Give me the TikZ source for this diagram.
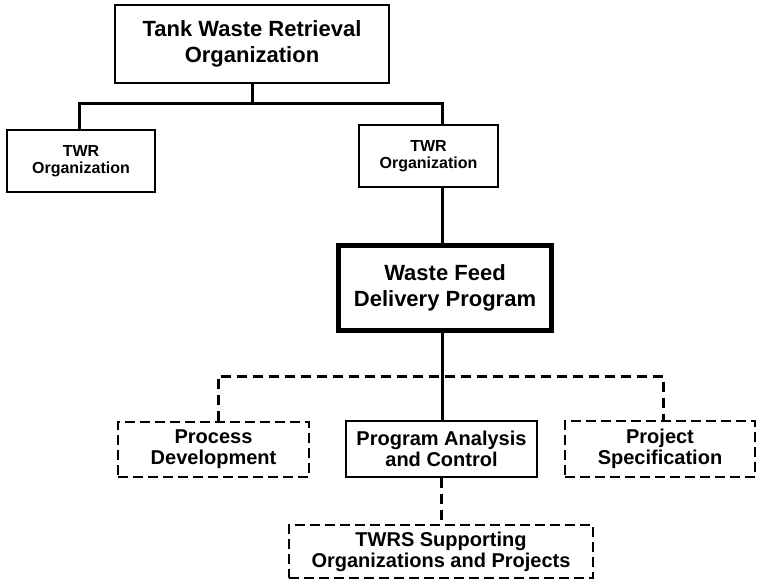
\documentclass[tikz,border=0pt]{standalone}
\usepackage{fontspec}
\setmainfont{Liberation Sans}
\newcommand{\fbig}{\fontsize{22}{26}\selectfont\bfseries}
\newcommand{\fmid}{\fontsize{20}{21}\selectfont\bfseries}
\newcommand{\fsmall}{\fontsize{16}{17}\selectfont\bfseries}

\begin{document}
\begin{tikzpicture}[x=1pt,y=-1pt,
  box/.style={draw,rectangle,line width=1.2pt,inner sep=0pt,align=center},
  dbox/.style={box,dash pattern=on 10pt off 5pt},
  link/.style={line width=3pt},
  dlink/.style={line width=3pt,dash pattern=on 10pt off 6pt}]
  \useasboundingbox (0,0) rectangle (758,581);
  \node[box,minimum width=274,minimum height=78,font=\fbig] (B-1) at (252,44) {Tank Waste Retrieval\\Organization};
  \node[box,minimum width=148,minimum height=62,font=\fsmall] (B-2) at (81,161) {TWR\\Organization};
  \node[box,minimum width=139,minimum height=62,font=\fsmall] (B-3) at (428.5,156) {TWR\\Organization};
  \node[box,line width=5pt,minimum width=213,minimum height=85,font=\fbig] (B-4) at (445,288) {Waste Feed\\Delivery Program};
  \node[dbox,minimum width=191,minimum height=55,font=\fmid] (B-5) at (213.5,449.5) {Process\\Development};
  \node[box,minimum width=191,minimum height=56,font=\fmid] (B-6) at (441.5,449) {Program Analysis\\and Control};
  \node[dbox,minimum width=190,minimum height=56,font=\fmid] (B-7) at (660,449) {Project\\Specification};
  \node[dbox,minimum width=304,minimum height=53,font=\fmid] (B-8) at (441,551.5) {TWRS Supporting\\Organizations and Projects};
  \coordinate (C-1) at (79,103);
  \coordinate (C-2) at (442,103);
  \coordinate (C-3) at (218,376);
  \coordinate (C-4) at (663,376);
  \draw[link] (B-1.south) -- (B-1.south |- C-1);
  \draw[link] (B-2.north -| C-1) -- (C-1) -- (C-2) -- (C-2 |- B-3.north);
  \draw[link] (C-2 |- B-3.south) -- (C-2 |- B-4.north);
  \draw[link] (C-2 |- B-4.south) -- (C-2 |- B-6.north);
  \draw[dlink] (C-3 |- B-5.north) -- (C-3) -- (C-4) -- (C-4 |- B-7.north);
  \draw[dlink] (B-6.south) -- (B-6.south |- B-8.north);
\end{tikzpicture}
\end{document}
